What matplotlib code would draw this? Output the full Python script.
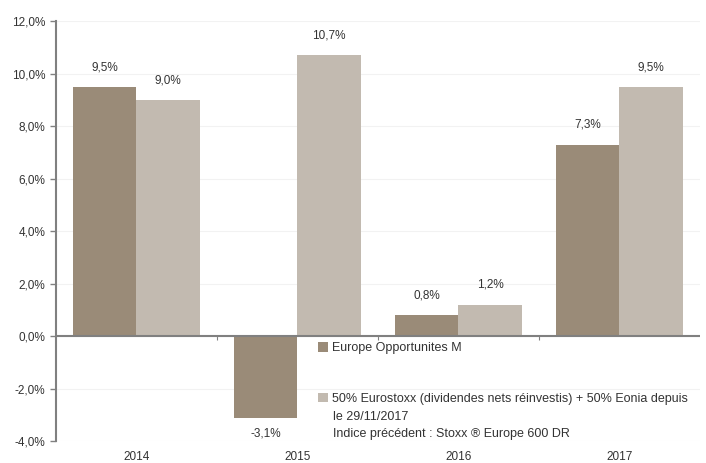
import matplotlib.pyplot as plt
import numpy as np

plt.rcParams['font.family'] = ['Liberation Sans', 'DejaVu Sans']

years = ["2014", "2015", "2016", "2017"]
fund = [9.5, -3.1, 0.8, 7.3]
index = [9.0, 10.7, 1.2, 9.5]
fund_name = "Europe Opportunites M"
index_name = "50% Eurostoxx (dividendes nets réinvestis) + 50% Eonia depuis"
index_extra = "le 29/11/2017\nIndice précédent : Stoxx ® Europe 600 DR"

c_fund = "#9a8b78"
c_index = "#c2bab0"
txt = "#333333"

fig = plt.figure(figsize=(7.06, 4.63), dpi=100)
ax = fig.add_axes([0.079, 0.047, 0.912, 0.907])

x = np.arange(len(years))
w = 0.395
b1 = ax.bar(x - w / 2, fund, w, color=c_fund, label=fund_name, zorder=2)
b2 = ax.bar(x + w / 2, index, w, color=c_index, label=index_name, zorder=2)

for bars, vals in ((b1, fund), (b2, index)):
    for r, v in zip(bars, vals):
        lab = f"{v:.1f}%".replace(".", ",")
        if v >= 0:
            ax.annotate(lab, (r.get_x() + r.get_width() / 2, v), xytext=(0, 10),
                        textcoords="offset points", ha="center", va="bottom",
                        fontsize=8.5, color=txt)
        else:
            ax.annotate(lab, (r.get_x() + r.get_width() / 2, v), xytext=(0, -7),
                        textcoords="offset points", ha="center", va="top",
                        fontsize=8.5, color=txt)

ax.set_ylim(-4, 12)
ax.set_xlim(-0.5, len(years) - 0.5)
yt = np.arange(-4, 12.1, 2)
ax.set_yticks(yt)
ax.set_yticklabels([f"{v:.1f}%".replace(".", ",") for v in yt], fontsize=8.5, color=txt)
ax.yaxis.grid(True, color="#f2f2f2", linewidth=0.8, zorder=0)
ax.set_axisbelow(True)

ax.set_xticks(x)
ax.set_xticklabels(years, fontsize=8.5, color=txt)
ax.tick_params(axis="x", length=0, pad=7)
ax.tick_params(axis="y", length=4, color="#808080", width=1)

for s in ("top", "right", "bottom"):
    ax.spines[s].set_visible(False)
ax.spines["left"].set_color("#808080")
ax.spines["left"].set_linewidth(1.5)
ax.axhline(0, color="#808080", linewidth=1.5, zorder=3)

# small ticks on the zero line between categories
sec = ax.secondary_xaxis(0.25)
sec.set_xticks(np.arange(0.5, len(years) - 0.5, 1))
sec.set_xticklabels([])
sec.tick_params(length=3, color="#808080")
sec.spines["bottom"].set_visible(False)

leg = ax.legend(loc="upper left", bbox_to_anchor=(318 / 706, 1 - 342 / 463),
                bbox_transform=fig.transFigure, frameon=False, fontsize=9,
                handlelength=0.8, handleheight=0.8, handletextpad=0.3,
                labelspacing=3.1, borderaxespad=0, borderpad=0)
for t in leg.get_texts():
    t.set_color(txt)
fig.text(333 / 706, 1 - 411 / 463, index_extra, fontsize=9, color=txt,
         va="top", ha="left", linespacing=1.6)

fig.savefig("out.png", dpi=100)
